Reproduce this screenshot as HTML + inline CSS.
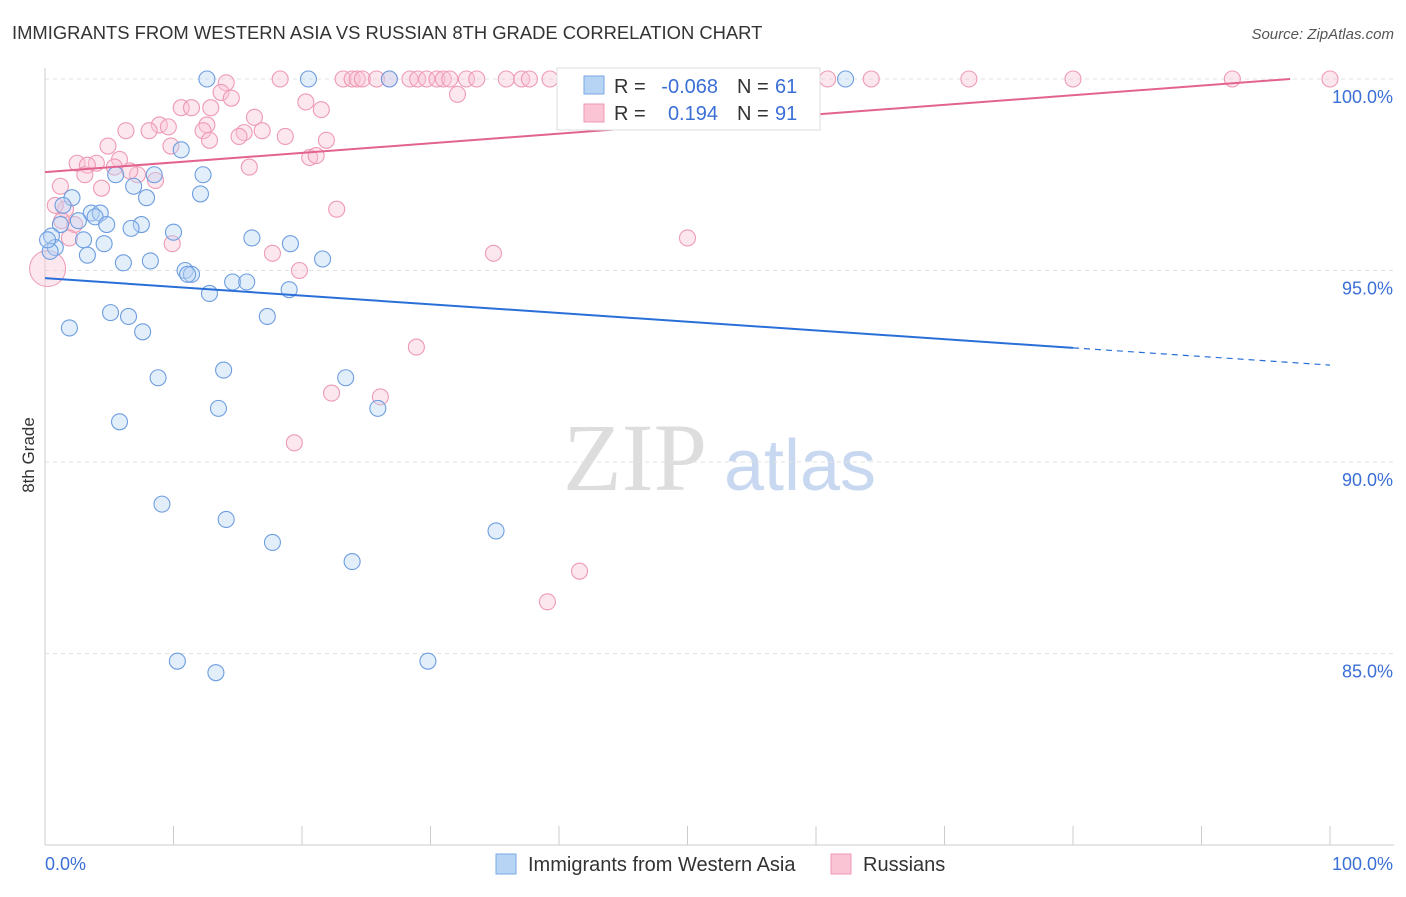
<!DOCTYPE html>
<html><head><meta charset="utf-8"><style>
body{margin:0;background:#fff;font-family:"Liberation Sans",sans-serif}
</style></head><body>
<svg id="c" width="1406" height="892" xmlns="http://www.w3.org/2000/svg" font-family="Liberation Sans, sans-serif">
<text x="12" y="39" font-size="18.4" fill="#333">IMMIGRANTS FROM WESTERN ASIA VS RUSSIAN 8TH GRADE CORRELATION CHART</text>
<text x="1394" y="39" font-size="15" fill="#555" font-style="italic" text-anchor="end">Source: ZipAtlas.com</text>
<text x="34" y="455" font-size="17" fill="#333" text-anchor="middle" transform="rotate(-90 34 455)">8th Grade</text>
<g><text x="635" y="490" font-size="96" fill="#ddd" font-family="Liberation Serif, serif" text-anchor="middle">ZIP</text><text x="800" y="490" font-size="72" fill="#c8d8f0" text-anchor="middle">atlas</text></g>
<g id="grid"></g><g id="marks"></g><g id="lines"></g>
<g>
<rect x="557" y="68" width="263" height="62" fill="#fff" stroke="#ddd"/>
<rect x="584" y="76" width="20" height="18" fill="#b8d4f5" stroke="#7aa8e6"/>
<rect x="584" y="104" width="20" height="18" fill="#fbc4d4" stroke="#ee9ab4"/>
<g font-size="20" fill="#333">
<text x="614" y="93">R =</text><text x="718" y="93" text-anchor="end" fill="#3b6fd6">-0.068</text><text x="737" y="93">N =</text><text x="775" y="93" fill="#3b6fd6">61</text>
<text x="614" y="120">R =</text><text x="718" y="120" text-anchor="end" fill="#3b6fd6">0.194</text><text x="737" y="120">N =</text><text x="775" y="120" fill="#3b6fd6">91</text>
</g>
</g>
<g>
<rect x="496" y="854" width="20" height="20" fill="#b8d4f5" stroke="#7aa8e6"/>
<text x="528" y="871" font-size="20" fill="#333">Immigrants from Western Asia</text>
<rect x="831" y="854" width="20" height="20" fill="#fbc4d4" stroke="#ee9ab4"/>
<text x="863" y="871" font-size="20" fill="#333">Russians</text>
</g>
</svg>
<script>
const yTicks=[100,95,90,85];
const yTickLabels=["100.0%","95.0%","90.0%","85.0%"];
const xTickVals=[0,10,20,30,40,50,60,70,80,90,100];
const blueX=[12.6,20.5,26.8,62.3,10.6,5.5,8.5,12.3,6.9,7.9,12.1,2.1,1.4,3.6,4.3,3.9,2.6,1.2,4.8,7.5,6.7,10.0,0.5,3.0,4.6,16.1,19.1,0.8,3.3,6.1,8.2,21.6,10.9,11.4,11.1,14.6,15.7,19.0,12.8,5.1,6.5,17.3,1.9,7.6,13.9,8.8,23.4,13.5,25.9,5.8,9.1,14.1,35.1,17.7,23.9,10.3,29.8,13.3,0.4,0.2];
const blueY=[100,100,100,100,98.15,97.5,97.5,97.5,97.2,96.9,97.0,96.9,96.7,96.5,96.5,96.4,96.3,96.2,96.2,96.2,96.1,96.0,95.9,95.8,95.7,95.85,95.7,95.6,95.4,95.2,95.25,95.3,95.0,94.9,94.9,94.7,94.7,94.5,94.4,93.9,93.8,93.8,93.5,93.4,92.4,92.2,92.2,91.4,91.4,91.05,88.9,88.5,88.2,87.9,87.4,84.8,84.8,84.5,95.5,95.8];
const pinkX=[14.1,18.3,23.2,23.9,24.3,24.7,25.8,26.8,28.4,29.0,29.7,30.5,31.0,31.5,32.8,33.6,35.9,37.1,37.7,39.3,40.6,47.1,50.2,51.0,52.5,59.4,60.9,64.3,71.9,80.0,92.4,100,13.7,14.5,32.1,20.3,10.6,11.4,12.9,21.5,12.6,16.3,8.9,9.6,6.3,12.3,16.9,15.5,15.1,8.1,18.7,21.9,9.8,4.9,20.6,21.1,5.8,4.0,2.5,3.3,5.4,15.9,3.1,7.2,8.6,4.4,1.2,1.6,22.7,9.9,2.3,50.0,34.9,17.7,19.8,0.8,28.9,22.3,26.1,19.4,41.6,39.1,1.3,1.9,6.6,12.8];
const pinkY=[99.9,100,100,100,100,100,100,100,100,100,100,100,100,100,100,100,100,100,100,100,100,100,100,100,100,100,100,100,100,100,100,100,99.65,99.5,99.6,99.4,99.25,99.25,99.25,99.2,98.8,99.0,98.8,98.75,98.65,98.65,98.65,98.6,98.5,98.65,98.5,98.4,98.25,98.25,97.95,98.0,97.9,97.8,97.8,97.75,97.7,97.7,97.5,97.5,97.35,97.15,97.2,96.6,96.6,95.7,96.2,95.85,95.45,95.45,95.0,96.7,93.0,91.8,91.7,90.5,87.15,86.35,96.3,95.85,97.6,98.4];
const bigPink=[0.2,95.05];
const blueTrend=[[0,94.8],[80,92.98],[100,92.53]];
const pinkTrend=[[0,97.57],[96.9,100]];
const sx=v=>45+v*12.85, sy=v=>79+(100-v)*38.3;
const NS="http://www.w3.org/2000/svg";
function mk(t,a,p){const e=document.createElementNS(NS,t);for(const k in a)e.setAttribute(k,a[k]);p.appendChild(e);return e;}
const g=document.getElementById('grid'),m=document.getElementById('marks'),l=document.getElementById('lines');
yTicks.forEach((v,i)=>{const ln=mk('line',{x1:45,x2:1394,y1:sy(v),y2:sy(v),stroke:'#e2e2e2','stroke-dasharray':'4 4'},g);


const t=mk('text',{x:1393,y:sy(v)+24,'font-size':18,fill:'#3b6fd6','text-anchor':'end'},g);t.textContent=yTickLabels[i];

});
const ax=mk('line',{x1:45,x2:1394,y1:845,y2:845,stroke:'#ccc'},g);


const ay=mk('line',{x1:45,x2:45,y1:68,y2:845,stroke:'#ccc'},g);


xTickVals.forEach(v=>{const t=mk('line',{x1:sx(v),x2:sx(v),y1:826,y2:845,stroke:'#ccc'},g);

});
[[0,'0.0%','start',45],[100,'100.0%','end',1393]].forEach(a=>{const t=mk('text',{x:a[3],y:870,'font-size':18,fill:'#3b6fd6','text-anchor':a[2]},g);t.textContent=a[1];

});
function dot(x,y,r,f,s,n){const c=mk('circle',{cx:sx(x),cy:sy(y),r:r,fill:f,stroke:s,'stroke-width':1.1,'fill-opacity':0.4},m);

}
const bp=mk('circle',{cx:sx(bigPink[0]),cy:sy(bigPink[1]),r:18,fill:'#fbc4d4',stroke:'#ee9ab4','fill-opacity':0.4},m);


pinkX.forEach((x,i)=>dot(x,pinkY[i],8,'#fbc4d4','#ee9ab4','russians-point'));
blueX.forEach((x,i)=>dot(x,blueY[i],8,'#b8d4f5','#6d9de0','western-asia-point'));
const b1=mk('line',{x1:sx(blueTrend[0][0]),y1:sy(blueTrend[0][1]),x2:sx(blueTrend[1][0]),y2:sy(blueTrend[1][1]),stroke:'#2a6fd8','stroke-width':2},l);


const b2=mk('line',{x1:sx(blueTrend[1][0]),y1:sy(blueTrend[1][1]),x2:sx(blueTrend[2][0]),y2:sy(blueTrend[2][1]),stroke:'#2a6fd8','stroke-width':1.2,'stroke-dasharray':'6 5'},l);


const p1=mk('line',{x1:sx(pinkTrend[0][0]),y1:sy(pinkTrend[0][1]),x2:sx(pinkTrend[1][0]),y2:sy(pinkTrend[1][1]),stroke:'#e2638f','stroke-width':2},l);


</script>
</body></html>
